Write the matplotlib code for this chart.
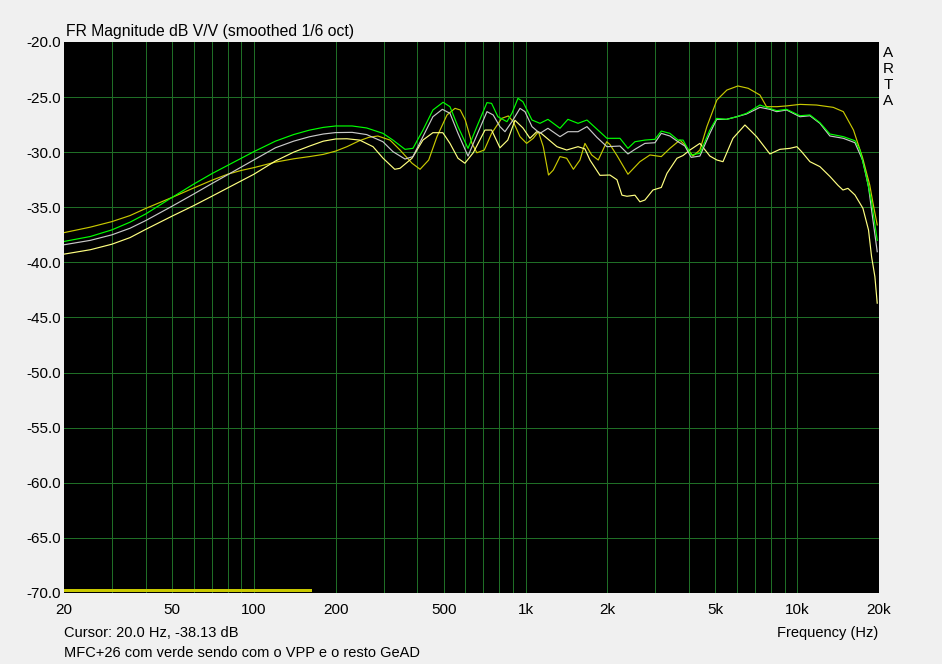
import matplotlib
matplotlib.use("Agg")
import matplotlib.pyplot as plt
from matplotlib.ticker import FixedLocator

plt.rcParams['font.family'] = ['Liberation Sans', 'DejaVu Sans']

# ---------------- data ----------------
green_f = [20, 25, 30, 35, 40, 50, 60, 70, 80, 100, 120, 140, 160, 180, 200, 230, 260, 298.6,
           325, 360, 385, 419, 456, 497, 527, 564, 614, 662, 721, 750, 791, 854, 891, 938, 978, 1056, 1130,
           1209, 1339, 1432, 1560, 1683, 1847, 1993, 2226, 2382, 2527, 2750, 2994, 3160, 3400, 3640, 3800,
           4070, 4382, 4770, 5050, 5490, 5990, 6510, 7290, 7710, 8400, 9140, 10232, 11137, 12120, 13192,
           14780, 16310, 17012, 17900, 18780, 19700]
green_db = [-38.1, -37.65, -37.05, -36.35, -35.6, -34.1, -32.9, -31.95, -31.2, -29.95, -29.0, -28.4, -28.0,
            -27.75, -27.62, -27.62, -27.8, -28.29, -28.9, -29.74, -29.65, -28.0, -26.17, -25.47, -25.87, -27.68,
            -29.65, -27.68, -25.5, -25.57, -26.78, -27.23, -26.47, -25.11, -25.42, -27.08, -27.38, -27.02, -27.83,
            -27.02, -27.38, -27.08, -27.99, -28.74, -28.74, -29.65, -29.05, -28.9, -28.83, -28.08, -28.29, -28.9,
            -28.9, -30.25, -30.1, -27.99, -26.93, -27.02, -26.78, -26.47, -25.72, -25.93, -26.23, -26.11, -26.69,
            -26.62, -27.32, -28.35, -28.59, -28.96, -29.8, -32.0, -34.5, -38.0]

gray_f = [20, 25, 30, 35, 40, 50, 60, 70, 80, 100, 120, 140, 160, 180, 200, 230, 260, 298.6, 325, 360,
          385, 419, 456, 494, 527, 564, 614, 662, 721, 760, 805, 840, 891, 954, 995, 1056, 1130, 1209, 1339,
          1432, 1560, 1683, 1830, 1993, 2226, 2382, 2527, 2750, 2994, 3160, 3400, 3640, 3860, 4070, 4382, 4770,
          5050, 5490, 5990, 6510, 7290, 7930, 8400, 9140, 10232, 11137, 12120, 13192, 14780, 16310, 17400,
          18300, 18780, 19700]
gray_db = [-38.4, -38.0, -37.5, -36.9, -36.2, -34.9, -33.8, -32.85, -32.05, -30.7, -29.6, -29.0, -28.6, -28.35,
           -28.22, -28.2, -28.4, -29.05, -29.95, -30.62, -30.4, -28.59, -26.78, -26.11, -26.47, -28.29, -30.35,
           -28.45, -26.32, -26.62, -27.68, -28.14, -27.23, -26.02, -26.32, -27.68, -28.29, -27.83, -28.59, -28.14,
           -28.14, -27.68, -28.65, -29.5, -29.44, -30.16, -29.74, -29.2, -29.14, -28.29, -28.53, -29.05, -29.44,
           -30.47, -30.35, -28.29, -27.02, -27.02, -26.78, -26.53, -25.93, -26.11, -26.32, -26.17, -26.78, -26.69,
           -27.38, -28.53, -28.74, -29.14, -30.71, -33.13, -35.25, -39.03]

olive_f = [20, 25, 30, 35, 40, 50, 60, 70, 80, 90, 100, 120, 140, 160, 180, 200, 220, 245, 265, 286, 317, 345,
           382, 409, 440, 472, 514, 550, 575, 600, 635, 662, 705, 750, 817, 864, 901, 954, 1009, 1067, 1115, 1162,
           1215, 1265, 1339, 1417, 1500, 1586, 1654, 1751, 1852, 1990, 2044, 2170, 2382, 2636, 2870, 3160, 3400,
           3700, 3860, 4130, 4382, 4650, 5062, 5510, 6049, 6600, 7290, 7710, 8420, 9140, 10232, 11786, 13570,
           14780, 16110, 17400, 18500, 19000, 19700]
olive_db = [-37.3, -36.8, -36.3, -35.75, -35.1, -34.1, -33.25, -32.55, -32.0, -31.65, -31.4, -30.9, -30.6,
            -30.4, -30.2, -29.9, -29.5, -28.95, -28.65, -28.53, -28.9, -29.8, -31.0, -31.55, -30.71, -28.59,
            -26.62, -26.02, -26.17, -27.08, -29.2, -30.05, -29.8, -28.29, -26.93, -26.71, -27.23, -28.59, -29.2,
            -28.74, -28.14, -29.5, -32.07, -31.62, -30.4, -30.55, -31.55, -30.71, -29.2, -30.25, -30.71, -29.05,
            -29.3, -30.3, -32.0, -30.86, -30.25, -30.4, -29.65, -28.9, -29.35, -30.35, -29.8, -27.68, -25.26,
            -24.36, -23.99, -24.2, -24.81, -25.87, -25.87, -25.8, -25.66, -25.72, -25.93, -26.32, -27.99, -30.5,
            -33.0, -34.6, -36.6]

ly_f = [20, 25, 30, 35, 40, 50, 60, 70, 80, 100, 120, 140, 160, 180, 200, 220, 245, 274.5, 299, 330, 345, 382,
        419, 456, 496, 527, 564, 598, 642, 709, 750, 805, 860, 914, 978, 1038, 1099, 1130, 1212, 1305, 1417,
        1560, 1654, 1726, 1879, 2044, 2170, 2264, 2362, 2527, 2636, 2750, 2944, 3160, 3315, 3609, 3800, 4028,
        4382, 4770, 5062, 5330, 5800, 6420, 7087, 7933, 8636, 9400, 9974, 10378, 11137, 12120, 13192, 14122,
        14732, 15370, 16310, 17452, 18300, 18780, 19316, 19700]
ly_db = [-39.25, -38.85, -38.35, -37.75, -37.0, -35.8, -34.85, -34.0, -33.25, -32.0, -30.8, -30.0, -29.45,
         -29.0, -28.8, -28.78, -28.9, -29.5, -30.55, -31.55, -31.46, -30.55, -28.9, -28.23, -28.23, -29.2,
         -30.55, -31.0, -30.05, -27.99, -27.99, -29.6, -28.9, -27.1, -27.8, -28.74, -28.14, -28.2, -28.83,
         -29.5, -29.8, -29.5, -29.7, -30.71, -32.1, -32.07, -32.5, -33.9, -34.0, -33.9, -34.5, -34.34, -33.43,
         -33.2, -31.92, -30.55, -30.3, -29.8, -29.2, -30.35, -30.71, -30.86, -28.74, -27.53, -28.59, -30.16,
         -29.74, -29.65, -29.5, -29.95, -30.86, -31.31, -32.2, -33.0, -33.43, -33.28, -33.88, -35.09, -37.06,
         -39.48, -41.3, -43.7]

marker_f = [20, 162]
marker_db = [-69.7, -69.7]

x_labeled = [20, 50, 100, 200, 500, 1000, 2000, 5000, 10000, 20000]
x_labels = ['20', '50', '100', '200', '500', '1k', '2k', '5k', '10k', '20k']
x_grid = [30, 40, 50, 60, 70, 80, 90, 100, 200, 300, 400, 500, 600, 700, 800, 900, 1000,
          2000, 3000, 4000, 5000, 6000, 7000, 8000, 9000, 10000]
y_ticks = [-70, -65, -60, -55, -50, -45, -40, -35, -30, -25, -20]
y_grid = [-65, -60, -55, -50, -45, -40, -35, -30, -25]

title = 'FR Magnitude dB V/V (smoothed 1/6 oct)'
cursor_text = 'Cursor: 20.0 Hz, -38.13 dB'
note_text = 'MFC+26 com verde sendo com o VPP e o resto GeAD'
xlabel = 'Frequency (Hz)'
brand = 'ARTA'

# ---------------- figure ----------------
W, H = 942, 664
fig = plt.figure(figsize=(W / 100, H / 100), dpi=100, facecolor='#f0f0f0')
ax = fig.add_axes([64 / W, (H - 593) / H, 815 / W, 551 / H])
ax.set_facecolor('black')
ax.set_xscale('log')
ax.set_xlim(20, 20000)
ax.set_ylim(-70, -20)

grid_c = '#1f6e26'
px = 0.72  # one pixel in points
ax.xaxis.set_major_locator(FixedLocator(x_labeled))
ax.xaxis.set_minor_locator(FixedLocator([]))
ax.set_xticklabels(x_labels)
ax.set_yticks(y_ticks)
ax.set_yticklabels([f'{v:.1f}' for v in y_ticks])
for xv in x_grid:
    ax.axvline(xv, color=grid_c, lw=px, antialiased=False, zorder=1)
for yv in y_grid:
    ax.axhline(yv, color=grid_c, lw=px, antialiased=False, zorder=1)
ax.tick_params(which='both', length=0, labelsize=11, colors='black')
ax.tick_params(axis='x', pad=7)
ax.tick_params(axis='y', pad=2)
for s in ax.spines.values():
    s.set_visible(False)

clw = 0.85
ax.plot(marker_f, marker_db, color='#c8c800', lw=3 * px, solid_capstyle='butt', antialiased=False, zorder=2)
ax.plot(olive_f, olive_db, color='#c8c800', lw=clw, zorder=2)
ax.plot(ly_f, ly_db, color='#ffff80', lw=clw, zorder=2)
ax.plot(gray_f, gray_db, color='#c8c8c8', lw=clw, zorder=2)
ax.plot(green_f, green_db, color='#00ff00', lw=clw, zorder=2)

fig.text(66 / W, 1 - 36 / H, title, fontsize=11.3, ha='left', va='baseline')
fig.text(64 / W, 1 - 637 / H, cursor_text, fontsize=10.5, ha='left', va='baseline')
fig.text(64 / W, 1 - 657 / H, note_text, fontsize=10.5, ha='left', va='baseline')
fig.text(878 / W, 1 - 637 / H, xlabel, fontsize=10.5, ha='right', va='baseline')
for i, ch in enumerate(brand):
    fig.text(888 / W, 1 - (57 + 16 * i) / H, ch, fontsize=11, ha='center', va='baseline')

fig.savefig('out.png', dpi=100, facecolor=fig.get_facecolor())
